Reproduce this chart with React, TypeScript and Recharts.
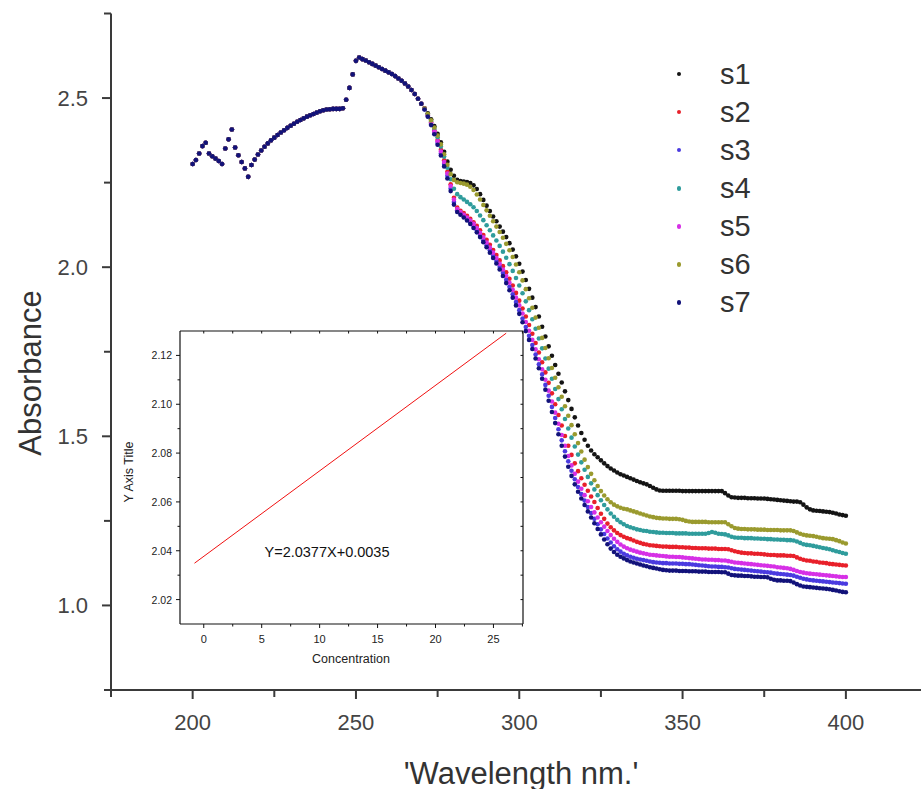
import React from 'react';
import { ScatterChart, Scatter, XAxis, YAxis, LineChart, Line } from 'recharts';

const FONT = '"Liberation Sans", Arial, Helvetica, sans-serif';

// Wavelength grid (nm), 1 nm steps
const wavelengths = Array.from({ length: 201 }, (_, i) => 200 + i);

// Absorbance shared by all samples, 200..270 nm
const sharedAbs = [
  2.305, 2.317, 2.336, 2.358, 2.368, 2.336, 2.328, 2.321, 2.314, 2.305,
  2.351, 2.378, 2.407, 2.354, 2.331, 2.311, 2.292, 2.267, 2.302, 2.318,
  2.333, 2.345, 2.356, 2.366, 2.375, 2.383, 2.391, 2.398, 2.405, 2.412,
  2.418, 2.424, 2.430, 2.435, 2.440, 2.445, 2.449, 2.453, 2.457, 2.461,
  2.464, 2.466, 2.467, 2.468, 2.468, 2.468, 2.470, 2.495, 2.530, 2.570,
  2.610, 2.620, 2.615, 2.611, 2.606, 2.601, 2.596, 2.591, 2.586, 2.581,
  2.576, 2.571, 2.565, 2.558, 2.551, 2.543, 2.534, 2.524, 2.512, 2.498,
  2.483,
];

// Per-sample absorbance, 271..400 nm
const s1Abs = [
  2.470, 2.455, 2.437, 2.417, 2.394, 2.369, 2.341, 2.312, 2.288, 2.270,
  2.258, 2.255, 2.253, 2.252, 2.249, 2.242, 2.231, 2.216, 2.199, 2.182,
  2.166, 2.150, 2.136, 2.120, 2.105, 2.089, 2.071, 2.052, 2.032, 2.010,
  1.987, 1.962, 1.936, 1.910, 1.882, 1.854, 1.824, 1.795, 1.766, 1.738,
  1.711, 1.685, 1.659, 1.633, 1.607, 1.581, 1.556, 1.532, 1.510, 1.490,
  1.472, 1.458, 1.447, 1.438, 1.429, 1.420, 1.412, 1.405, 1.399, 1.393,
  1.388, 1.384, 1.380, 1.376, 1.372, 1.368, 1.364, 1.361, 1.358, 1.353,
  1.348, 1.343, 1.340, 1.339, 1.339, 1.339, 1.339, 1.339, 1.339, 1.338,
  1.338, 1.338, 1.338, 1.338, 1.338, 1.338, 1.338, 1.338, 1.338, 1.338,
  1.338, 1.338, 1.332, 1.325, 1.320, 1.319, 1.318, 1.318, 1.318, 1.317,
  1.317, 1.317, 1.316, 1.316, 1.316, 1.315, 1.314, 1.313, 1.312, 1.311,
  1.310, 1.309, 1.308, 1.307, 1.307, 1.305, 1.298, 1.290, 1.284, 1.281,
  1.280, 1.279, 1.278, 1.277, 1.276, 1.274, 1.272, 1.269, 1.267, 1.265,
];

const s2Abs = [
  2.469, 2.450, 2.428, 2.404, 2.376, 2.347, 2.316, 2.282, 2.245, 2.205,
  2.176, 2.167, 2.160, 2.152, 2.143, 2.133, 2.122, 2.109, 2.095, 2.081,
  2.066, 2.051, 2.036, 2.020, 2.003, 1.985, 1.966, 1.946, 1.924, 1.901,
  1.878, 1.854, 1.829, 1.803, 1.776, 1.748, 1.719, 1.689, 1.658, 1.627,
  1.595, 1.563, 1.532, 1.501, 1.472, 1.445, 1.420, 1.397, 1.376, 1.357,
  1.339, 1.322, 1.306, 1.288, 1.271, 1.256, 1.242, 1.231, 1.222, 1.214,
  1.208, 1.203, 1.199, 1.196, 1.192, 1.188, 1.185, 1.182, 1.180, 1.178,
  1.177, 1.176, 1.175, 1.174, 1.174, 1.173, 1.173, 1.173, 1.172, 1.172,
  1.171, 1.171, 1.170, 1.170, 1.169, 1.169, 1.169, 1.168, 1.168, 1.168,
  1.167, 1.167, 1.167, 1.166, 1.163, 1.160, 1.158, 1.156, 1.155, 1.154,
  1.154, 1.153, 1.153, 1.152, 1.151, 1.150, 1.149, 1.149, 1.148, 1.148,
  1.148, 1.147, 1.147, 1.146, 1.142, 1.138, 1.135, 1.133, 1.132, 1.130,
  1.129, 1.127, 1.126, 1.125, 1.123, 1.122, 1.121, 1.120, 1.119, 1.118,
];

const s3Abs = [
  2.467, 2.447, 2.423, 2.397, 2.367, 2.336, 2.305, 2.270, 2.233, 2.193,
  2.168, 2.159, 2.151, 2.143, 2.133, 2.122, 2.109, 2.095, 2.080, 2.065,
  2.050, 2.034, 2.018, 2.001, 1.983, 1.963, 1.942, 1.920, 1.897, 1.873,
  1.848, 1.823, 1.797, 1.770, 1.742, 1.713, 1.683, 1.652, 1.620, 1.587,
  1.554, 1.521, 1.488, 1.456, 1.426, 1.398, 1.373, 1.350, 1.329, 1.310,
  1.291, 1.273, 1.256, 1.240, 1.225, 1.211, 1.198, 1.186, 1.175, 1.166,
  1.159, 1.153, 1.148, 1.144, 1.141, 1.138, 1.136, 1.134, 1.132, 1.130,
  1.128, 1.127, 1.126, 1.125, 1.125, 1.124, 1.124, 1.124, 1.123, 1.123,
  1.122, 1.122, 1.121, 1.120, 1.119, 1.118, 1.117, 1.116, 1.115, 1.115,
  1.114, 1.114, 1.113, 1.112, 1.110, 1.108, 1.107, 1.106, 1.105, 1.104,
  1.103, 1.102, 1.101, 1.100, 1.099, 1.098, 1.097, 1.095, 1.094, 1.093,
  1.092, 1.091, 1.090, 1.088, 1.085, 1.082, 1.079, 1.077, 1.075, 1.074,
  1.073, 1.072, 1.071, 1.070, 1.069, 1.068, 1.067, 1.066, 1.065, 1.064,
];

const s4Abs = [
  2.468, 2.451, 2.431, 2.409, 2.384, 2.357, 2.327, 2.294, 2.260, 2.232,
  2.216, 2.207, 2.200, 2.193, 2.186, 2.177, 2.166, 2.153, 2.139, 2.124,
  2.109, 2.094, 2.079, 2.063, 2.046, 2.028, 2.009, 1.989, 1.968, 1.946,
  1.923, 1.899, 1.873, 1.846, 1.818, 1.789, 1.760, 1.730, 1.700, 1.670,
  1.640, 1.610, 1.580, 1.551, 1.523, 1.496, 1.470, 1.446, 1.423, 1.401,
  1.380, 1.361, 1.343, 1.326, 1.311, 1.297, 1.284, 1.272, 1.262, 1.253,
  1.246, 1.240, 1.235, 1.231, 1.228, 1.225, 1.223, 1.221, 1.220, 1.218,
  1.217, 1.216, 1.215, 1.215, 1.214, 1.214, 1.214, 1.213, 1.213, 1.213,
  1.213, 1.212, 1.212, 1.212, 1.212, 1.212, 1.212, 1.214, 1.217, 1.215,
  1.212, 1.211, 1.210, 1.207, 1.203, 1.201, 1.200, 1.200, 1.199, 1.199,
  1.199, 1.198, 1.198, 1.197, 1.197, 1.196, 1.196, 1.195, 1.195, 1.194,
  1.194, 1.193, 1.193, 1.192, 1.189, 1.185, 1.181, 1.179, 1.178, 1.176,
  1.174, 1.172, 1.170, 1.168, 1.166, 1.163, 1.160, 1.158, 1.155, 1.153,
];

const s5Abs = [
  2.468, 2.449, 2.426, 2.401, 2.372, 2.342, 2.311, 2.277, 2.240, 2.200,
  2.172, 2.163, 2.155, 2.147, 2.138, 2.128, 2.116, 2.102, 2.088, 2.073,
  2.058, 2.043, 2.027, 2.010, 1.993, 1.974, 1.954, 1.933, 1.910, 1.887,
  1.863, 1.838, 1.812, 1.785, 1.757, 1.728, 1.698, 1.667, 1.635, 1.603,
  1.570, 1.537, 1.504, 1.472, 1.442, 1.414, 1.389, 1.366, 1.345, 1.326,
  1.308, 1.291, 1.275, 1.260, 1.246, 1.233, 1.220, 1.208, 1.197, 1.188,
  1.180, 1.174, 1.169, 1.165, 1.162, 1.159, 1.156, 1.154, 1.152, 1.150,
  1.149, 1.148, 1.147, 1.146, 1.145, 1.144, 1.144, 1.143, 1.143, 1.142,
  1.141, 1.140, 1.139, 1.138, 1.137, 1.136, 1.136, 1.135, 1.135, 1.134,
  1.134, 1.133, 1.133, 1.131, 1.129, 1.127, 1.126, 1.125, 1.124, 1.123,
  1.122, 1.121, 1.120, 1.119, 1.118, 1.117, 1.116, 1.115, 1.113, 1.112,
  1.111, 1.110, 1.108, 1.105, 1.102, 1.099, 1.097, 1.095, 1.094, 1.093,
  1.092, 1.091, 1.090, 1.089, 1.088, 1.087, 1.086, 1.085, 1.084, 1.084,
];

const s6Abs = [
  2.469, 2.453, 2.434, 2.413, 2.389, 2.363, 2.334, 2.303, 2.275, 2.258,
  2.251, 2.249, 2.247, 2.244, 2.238, 2.228, 2.215, 2.200, 2.184, 2.168,
  2.152, 2.136, 2.120, 2.104, 2.087, 2.069, 2.050, 2.030, 2.008, 1.985,
  1.961, 1.935, 1.908, 1.880, 1.851, 1.821, 1.791, 1.761, 1.731, 1.702,
  1.673, 1.645, 1.617, 1.589, 1.561, 1.533, 1.506, 1.480, 1.455, 1.431,
  1.409, 1.389, 1.370, 1.353, 1.338, 1.325, 1.314, 1.305, 1.298, 1.293,
  1.289, 1.286, 1.284, 1.281, 1.278, 1.275, 1.272, 1.269, 1.266, 1.263,
  1.261, 1.259, 1.258, 1.257, 1.257, 1.256, 1.256, 1.256, 1.255, 1.253,
  1.250, 1.248, 1.247, 1.247, 1.247, 1.247, 1.247, 1.246, 1.246, 1.246,
  1.246, 1.246, 1.246, 1.240, 1.234, 1.229, 1.227, 1.226, 1.226, 1.225,
  1.225, 1.225, 1.224, 1.224, 1.224, 1.223, 1.223, 1.223, 1.223, 1.222,
  1.222, 1.222, 1.222, 1.220, 1.216, 1.212, 1.209, 1.207, 1.206, 1.205,
  1.203, 1.201, 1.199, 1.198, 1.197, 1.196, 1.193, 1.190, 1.186, 1.183,
];

const s7Abs = [
  2.466, 2.445, 2.420, 2.393, 2.362, 2.330, 2.298, 2.262, 2.225, 2.185,
  2.163, 2.155, 2.147, 2.138, 2.128, 2.116, 2.103, 2.089, 2.074, 2.059,
  2.043, 2.027, 2.011, 1.993, 1.974, 1.953, 1.932, 1.910, 1.887, 1.862,
  1.837, 1.811, 1.785, 1.758, 1.730, 1.701, 1.670, 1.638, 1.605, 1.572,
  1.539, 1.506, 1.472, 1.440, 1.410, 1.383, 1.358, 1.336, 1.316, 1.297,
  1.278, 1.260, 1.243, 1.226, 1.210, 1.195, 1.181, 1.168, 1.158, 1.150,
  1.144, 1.139, 1.134, 1.130, 1.127, 1.124, 1.121, 1.118, 1.116, 1.113,
  1.111, 1.109, 1.107, 1.105, 1.104, 1.103, 1.103, 1.103, 1.102, 1.102,
  1.102, 1.101, 1.101, 1.101, 1.100, 1.100, 1.100, 1.099, 1.099, 1.099,
  1.099, 1.098, 1.098, 1.094, 1.090, 1.089, 1.088, 1.088, 1.087, 1.087,
  1.086, 1.085, 1.085, 1.084, 1.084, 1.083, 1.079, 1.076, 1.074, 1.074,
  1.073, 1.073, 1.072, 1.068, 1.063, 1.059, 1.056, 1.055, 1.054, 1.053,
  1.052, 1.051, 1.050, 1.049, 1.048, 1.046, 1.044, 1.042, 1.040, 1.039,
];

const seriesNames = ['s1', 's2', 's3', 's4', 's5', 's6', 's7'];
const seriesColors = ['#141414', '#e8202a', '#4a3ae0', '#2f9c9c', '#d630e6', '#9a9a2e', '#12127a'];
const seriesTails = [s1Abs, s2Abs, s3Abs, s4Abs, s5Abs, s6Abs, s7Abs];

const mainXTicks = [175, 200, 225, 250, 275, 300, 325, 350, 375, 400];
const mainXLabels = [200, 250, 300, 350, 400];
const mainYTicks = [0.75, 1.0, 1.25, 1.5, 1.75, 2.0, 2.25, 2.5, 2.75];
const mainYLabels = [1.0, 1.5, 2.0, 2.5];

// Inset calibration line
const insetConc = [-0.8, 26.1];
const insetResp = [2.0349, 2.1291];
const insetXTicks = [0, 2.5, 5, 7.5, 10, 12.5, 15, 17.5, 20, 22.5, 25, 27.5];
const insetXLabels = [0, 5, 10, 15, 20, 25];
const insetYTicks = [2.02, 2.03, 2.04, 2.05, 2.06, 2.07, 2.08, 2.09, 2.10, 2.11, 2.12];
const insetYLabels = [2.02, 2.04, 2.06, 2.08, 2.10, 2.12];
const equationText = 'Y=2.0377X+0.0035';

const AXIS_COLOR = '#3a3a3a';
const isIn = (arr: number[], v: number) => arr.some((a) => Math.abs(a - v) < 1e-6);

const MainXTick = (props: any) => {
  const { x, y, payload } = props;
  const v = payload.value;
  const major = isIn(mainXLabels, v);
  return (
    <g>
      <line x1={x} x2={x} y1={y} y2={y + (major ? 9 : 7)} stroke={AXIS_COLOR} strokeWidth={2} />
      {major && (
        <text x={x} y={y + 32} textAnchor="middle" dominantBaseline="central" fontSize={22} fill="#444" fontFamily={FONT}>
          {v}
        </text>
      )}
    </g>
  );
};

const MainYTick = (props: any) => {
  const { x, y, payload } = props;
  const v = payload.value;
  const major = isIn(mainYLabels, v);
  return (
    <g>
      <line x1={x} x2={x - (major ? 9 : 7)} y1={y} y2={y} stroke={AXIS_COLOR} strokeWidth={2} />
      {major && (
        <text x={x - 23} y={y} textAnchor="end" dominantBaseline="central" fontSize={22} fill="#444" fontFamily={FONT}>
          {v.toFixed(1)}
        </text>
      )}
    </g>
  );
};

const InsetXTick = (props: any) => {
  const { x, y, payload } = props;
  const v = payload.value;
  const major = isIn(insetXLabels, v);
  return (
    <g>
      <line x1={x} x2={x} y1={y} y2={y + (major ? 4 : 2.5)} stroke="#111" strokeWidth={1} />
      {major && (
        <text x={x} y={y + 14.5} textAnchor="middle" dominantBaseline="central" fontSize={11} fill="#222" fontFamily={FONT}>
          {v}
        </text>
      )}
    </g>
  );
};

const InsetYTick = (props: any) => {
  const { x, y, payload } = props;
  const v = payload.value;
  const major = isIn(insetYLabels, v);
  return (
    <g>
      <line x1={x} x2={x - (major ? 4 : 2.5)} y1={y} y2={y} stroke="#111" strokeWidth={1} />
      {major && (
        <text x={x - 8} y={y} textAnchor="end" dominantBaseline="central" fontSize={10.5} fill="#222" fontFamily={FONT}>
          {v.toFixed(2)}
        </text>
      )}
    </g>
  );
};

const InsetTopTick = (props: any) => {
  const { x, y } = props;
  return <line x1={x} x2={x} y1={y} y2={y + 2.5} stroke="#111" strokeWidth={1} />;
};

const InsetRightTick = (props: any) => {
  const { x, y } = props;
  return <line x1={x} x2={x - 2.5} y1={y} y2={y} stroke="#111" strokeWidth={1} />;
};

const centered = (left: number, top: number, extra: React.CSSProperties = {}): React.CSSProperties => ({
  position: 'absolute',
  left,
  top,
  transform: 'translate(-50%, -50%)',
  whiteSpace: 'nowrap',
  lineHeight: 1,
  fontFamily: FONT,
  ...extra,
});

export default function App() {
  const seriesData = seriesTails.map((tail) =>
    wavelengths.map((w, i) => ({
      x: w,
      y: i < sharedAbs.length ? sharedAbs[i] : tail[i - sharedAbs.length],
    }))
  );
  const insetData = insetConc.map((c, i) => ({ c, y: insetResp[i] }));

  return (
    <div style={{ position: 'absolute', left: 0, top: 0, width: 921, height: 789, background: '#fff', overflow: 'hidden' }}>
      <ScatterChart width={921} height={789} margin={{ top: 13.5, right: 0, left: 51, bottom: 69 }}>
        <XAxis
          type="number"
          dataKey="x"
          domain={[175, 423]}
          ticks={mainXTicks}
          interval={0}
          allowDataOverflow
          height={30}
          tickSize={0}
          tickMargin={0}
          tick={<MainXTick />}
          axisLine={{ stroke: AXIS_COLOR, strokeWidth: 2 }}
        />
        <YAxis
          type="number"
          dataKey="y"
          domain={[0.75, 2.75]}
          ticks={mainYTicks}
          interval={0}
          allowDataOverflow
          width={60}
          tickSize={0}
          tickMargin={0}
          tick={<MainYTick />}
          axisLine={{ stroke: AXIS_COLOR, strokeWidth: 2 }}
        />
        {seriesData.map((d, si) => (
          <Scatter
            key={seriesNames[si]}
            name={seriesNames[si]}
            data={d}
            fill={seriesColors[si]}
            isAnimationActive={false}
            shape={(p: any) => <circle cx={p.cx} cy={p.cy} r={2.3} fill={seriesColors[si]} />}
          />
        ))}
      </ScatterChart>

      {/* Inset calibration plot */}
      <div style={{ position: 'absolute', left: 100, top: 320, width: 440, height: 360 }}>
        <LineChart width={440} height={360} data={insetData} margin={{ top: 10, right: 16, left: 40, bottom: 36 }}>
          <XAxis
            xAxisId="b"
            type="number"
            dataKey="c"
            domain={[-2.05, 27.55]}
            ticks={insetXTicks}
            interval={0}
            allowDataOverflow
            height={20}
            tickSize={0}
            tickMargin={0}
            tick={<InsetXTick />}
            axisLine={{ stroke: '#111', strokeWidth: 1.2 }}
          />
          <XAxis
            xAxisId="t"
            orientation="top"
            type="number"
            dataKey="c"
            domain={[-2.05, 27.55]}
            ticks={insetXTicks}
            interval={0}
            allowDataOverflow
            height={1}
            tickSize={0}
            tickMargin={0}
            tick={<InsetTopTick />}
            axisLine={{ stroke: '#111', strokeWidth: 1.2 }}
          />
          <YAxis
            yAxisId="l"
            type="number"
            dataKey="y"
            domain={[2.01, 2.13]}
            ticks={insetYTicks}
            interval={0}
            allowDataOverflow
            width={40}
            tickSize={0}
            tickMargin={0}
            tick={<InsetYTick />}
            axisLine={{ stroke: '#111', strokeWidth: 1.2 }}
          />
          <YAxis
            yAxisId="r"
            orientation="right"
            type="number"
            dataKey="y"
            domain={[2.01, 2.13]}
            ticks={insetYTicks}
            interval={0}
            allowDataOverflow
            width={1}
            tickSize={0}
            tickMargin={0}
            tick={<InsetRightTick />}
            axisLine={{ stroke: '#111', strokeWidth: 1.2 }}
          />
          <Line
            xAxisId="b"
            yAxisId="l"
            type="linear"
            dataKey="y"
            stroke="#f01010"
            strokeWidth={1}
            dot={false}
            isAnimationActive={false}
          />
        </LineChart>
      </div>

      {/* Titles and annotations */}
      <div style={centered(30, 373, { fontSize: 31, color: '#333', transform: 'translate(-50%, -50%) rotate(-90deg)' })}>Absorbance</div>
      <div style={centered(521, 773, { fontSize: 31, color: '#333' })}>'Wavelength nm.'</div>
      <div style={centered(129, 472, { fontSize: 12.5, color: '#222', transform: 'translate(-50%, -50%) rotate(-90deg)' })}>Y Axis Title</div>
      <div style={centered(351, 659, { fontSize: 12.5, color: '#222' })}>Concentration</div>
      <div style={centered(327, 552, { fontSize: 14.5, color: '#111' })}>{equationText}</div>

      {/* Legend */}
      {seriesNames.map((n, i) => (
        <React.Fragment key={n}>
          <div
            style={{
              position: 'absolute',
              left: 677,
              top: 74 + i * 38.05 - 2,
              width: 4.4,
              height: 4.4,
              borderRadius: '50%',
              background: seriesColors[i],
            }}
          />
          <div style={{ position: 'absolute', left: 720, top: 74 + i * 38.05, transform: 'translateY(-50%)', fontSize: 29, lineHeight: 1, color: '#333', fontFamily: FONT }}>
            {n}
          </div>
        </React.Fragment>
      ))}
    </div>
  );
}
